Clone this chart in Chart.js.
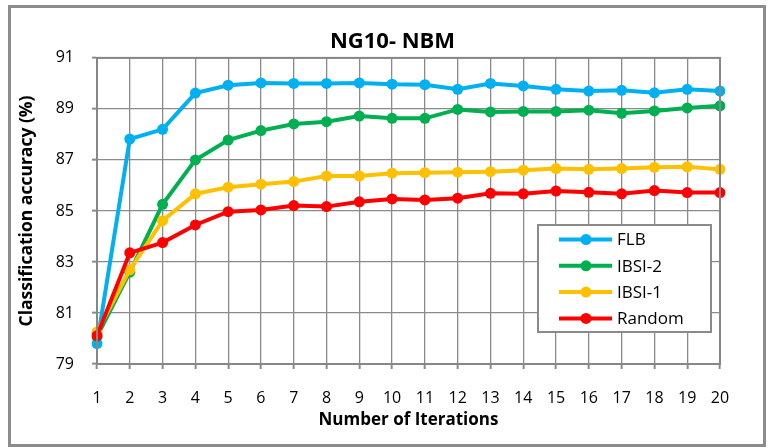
<!DOCTYPE html>
<html>
<head>
<meta charset="utf-8">
<title>NG10- NBM</title>
<script src="https://cdn.jsdelivr.net/npm/chart.js@4.4.1/dist/chart.umd.min.js"></script>
<style>
    html, body { margin: 0; padding: 0; background: #fff; }
    #wrap { position: relative; width: 768px; height: 447px; }
    #frame {
        position: absolute; left: 8px; top: 5px; width: 758px; height: 442px;
        box-sizing: border-box; border: 3px solid #8c8c8c; pointer-events: none;
    }
</style>
</head>
<body>
<div id="wrap">
    <canvas id="accChart" width="768" height="447"></canvas>
    <div id="frame"></div>
</div>
<script>
// Tick labels / categories
const iterations = ['1', '2', '3', '4', '5', '6', '7', '8', '9', '10',
                    '11', '12', '13', '14', '15', '16', '17', '18', '19', '20'];
const yTicks = [79, 81, 83, 85, 87, 89, 91];

// Series values (classification accuracy, %)
const seriesNames = ['FLB', 'IBSI-2', 'IBSI-1', 'Random'];
const flb = [79.80, 87.82, 88.20, 89.62, 89.93, 90.02, 90.00, 90.00, 90.02, 89.97,
             89.95, 89.77, 90.00, 89.90, 89.77, 89.70, 89.73, 89.63, 89.77, 89.70];
const ibsi2 = [80.07, 82.60, 85.26, 87.00, 87.78, 88.15, 88.41, 88.50, 88.72, 88.63,
               88.63, 88.98, 88.88, 88.90, 88.90, 88.95, 88.83, 88.92, 89.04, 89.12];
const ibsi1 = [80.25, 82.69, 84.62, 85.67, 85.93, 86.05, 86.15, 86.37, 86.37, 86.48,
               86.50, 86.52, 86.54, 86.60, 86.66, 86.63, 86.66, 86.71, 86.73, 86.63];
const random = [80.11, 83.36, 83.76, 84.45, 84.97, 85.04, 85.21, 85.17, 85.36, 85.47,
                85.43, 85.50, 85.69, 85.67, 85.78, 85.73, 85.67, 85.80, 85.72, 85.72];

const colors = ['#00B0F0', '#00B050', '#FFC000', '#FF0000'];
const FONT = "'Open Sans', Lato, sans-serif";
const GRID = '#8a8a8a';

function makeDataset(i, values) {
    return {
        label: seriesNames[i],
        data: values,
        borderColor: colors[i],
        backgroundColor: colors[i],
        borderWidth: 4,
        pointRadius: 5.5,
        pointBorderWidth: 0,
        pointBackgroundColor: colors[i],
        tension: 0,
        order: 4 - i   // later series drawn on top, like the original
    };
}

// Frame round the plot area
const plotFrame = {
    id: 'plotFrame',
    afterDatasetsDraw(chart) {
        const a = chart.chartArea;
        const ctx = chart.ctx;
        ctx.save();
        ctx.strokeStyle = '#878787';
        ctx.lineWidth = 2;
        ctx.strokeRect(a.left, a.top, a.right - a.left, a.bottom - a.top);
        ctx.restore();
    }
};

// Legend box inside the plot, bottom right
const boxLegend = {
    id: 'boxLegend',
    afterDraw(chart) {
        const ctx = chart.ctx;
        const x0 = 538, y0 = 225, w = 173, h = 107;
        ctx.save();
        ctx.fillStyle = '#fff';
        ctx.fillRect(x0, y0, w, h);
        ctx.strokeStyle = '#8a8a8a';
        ctx.lineWidth = 2;
        ctx.strokeRect(x0, y0, w, h);
        ctx.font = '17px ' + FONT;
        ctx.textBaseline = 'middle';
        chart.data.datasets.forEach((ds, i) => {
            const y = y0 + 14.5 + i * 26.3;
            ctx.strokeStyle = ds.borderColor;
            ctx.lineWidth = 4;
            ctx.beginPath();
            ctx.moveTo(559, y);
            ctx.lineTo(612, y);
            ctx.stroke();
            ctx.fillStyle = ds.borderColor;
            ctx.beginPath();
            ctx.arc(586, y, 5.5, 0, Math.PI * 2);
            ctx.fill();
            ctx.fillStyle = '#000';
            ctx.fillText(ds.label, 617, y + 1);
        });
        ctx.restore();
    }
};

const gridOpts = {
    color: GRID,
    lineWidth: 1.3,
    borderDash: [2, 2],
    tickLength: 5,
    tickBorderDash: [],
    tickColor: GRID,
    tickWidth: 2
};

const config = {
    type: 'line',
    data: {
        labels: iterations,
        datasets: [
            makeDataset(0, flb),
            makeDataset(1, ibsi2),
            makeDataset(2, ibsi1),
            makeDataset(3, random)
        ]
    },
    options: {
        responsive: false,
        animation: false,
        devicePixelRatio: 1,
        layout: { padding: { left: 17, top: 0, right: 0, bottom: 0 } },
        plugins: {
            legend: { display: false },
            tooltip: { enabled: false },
            title: {
                display: true,
                text: 'NG10- NBM',
                color: '#000',
                font: { family: FONT, size: 22, weight: 'bold' },
                padding: { top: 28.5, bottom: 3 }
            }
        },
        scales: {
            x: {
                offset: false,
                afterFit(scale) { scale.height = 83; },
                grid: gridOpts,
                border: { display: true, color: '#878787', width: 2 },
                ticks: {
                    color: '#000',
                    padding: 20,
                    maxRotation: 0,
                    autoSkip: false,
                    font: { family: FONT, size: 16 }
                },
                title: {
                    display: true,
                    text: 'Number of Iterations',
                    color: '#000',
                    font: { family: FONT, size: 17, weight: 'bold' },
                    padding: { top: 0, bottom: 17 }
                }
            },
            y: {
                min: yTicks[0],
                max: yTicks[yTicks.length - 1],
                afterFit(scale) { scale.width = 80; },
                afterBuildTicks(scale) {
                    scale.ticks = yTicks.map(v => ({ value: v }));
                },
                grid: gridOpts,
                border: { display: true, color: '#878787', width: 2 },
                ticks: {
                    color: '#000',
                    padding: 18,
                    font: { family: FONT, size: 16 }
                },
                title: {
                    display: true,
                    text: 'Classification accuracy (%)',
                    color: '#000',
                    font: { family: FONT, size: 17.5, weight: 'bold' },
                    padding: { top: 0, bottom: 0 }
                }
            },
            // empty strip on the right, keeps the plot clear of the frame
            yRight: {
                position: 'right',
                display: true,
                afterFit(scale) { scale.width = 48; },
                grid: { display: false },
                border: { display: false },
                ticks: { display: false }
            }
        }
    },
    plugins: [plotFrame, boxLegend]
};

new Chart(document.getElementById('accChart').getContext('2d'), config);
</script>
</body>
</html>
